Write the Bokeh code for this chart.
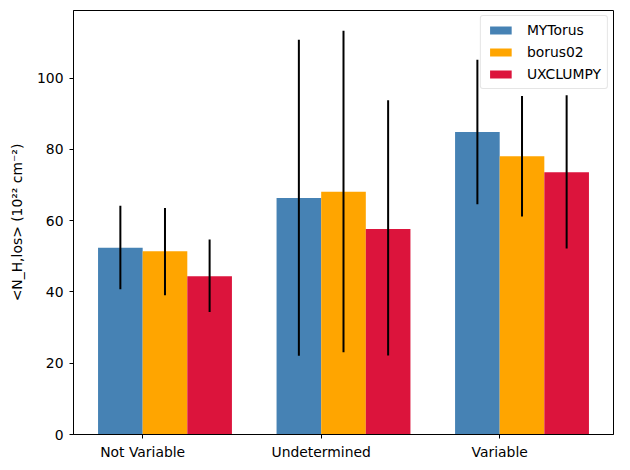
from bokeh.plotting import figure
from bokeh.models import FixedTicker, Range1d, Legend, LegendItem
from bokeh.embed import file_html
from bokeh.resources import INLINE

categories = ["Not Variable", "Undetermined", "Variable"]
series = ["MYTorus", "borus02", "UXCLUMPY"]
colors = ["steelblue", "orange", "crimson"]

mytorus = [52.4, 66.4, 84.9]
mytorus_lo = [40.8, 22.1, 64.6]
mytorus_hi = [64.2, 110.8, 105.2]

borus02 = [51.4, 68.1, 78.1]
borus02_lo = [39.1, 23.1, 61.2]
borus02_hi = [63.6, 113.3, 95.0]

uxclumpy = [44.4, 57.7, 73.6]
uxclumpy_lo = [34.4, 22.2, 52.2]
uxclumpy_hi = [54.7, 93.8, 95.2]

values = [mytorus, borus02, uxclumpy]
lows = [mytorus_lo, borus02_lo, uxclumpy_lo]
highs = [mytorus_hi, borus02_hi, uxclumpy_hi]

width = 0.25
# bars are edge-aligned: left edges at tick-0.25, tick, tick+0.25
offsets = [-0.125, 0.125, 0.375]
x0 = list(range(len(categories)))

p = figure(width=614, height=462, output_backend="svg", toolbar_location=None,
           x_range=Range1d(-0.3875, 2.6375), y_range=Range1d(0, 119.0),
           min_border_left=73, min_border_right=1, min_border_top=10, min_border_bottom=26)

items = []
for vals, lo, hi, col, name, off in zip(values, lows, highs, colors, series, offsets):
    xs = [x + off for x in x0]
    r = p.vbar(x=xs, top=vals, width=width, fill_color=col, line_color=None)
    items.append(LegendItem(label=name, renderers=[r]))
for lo, hi, off in zip(lows, highs, offsets):
    xs = [x + off for x in x0]
    p.segment(x0=xs, y0=lo, x1=xs, y1=hi, line_color="black", line_width=2)

legend = Legend(items=items, location="top_right", label_text_font="DejaVu Sans",
                label_text_font_size="13.9px", label_text_color="black",
                border_line_color="#cccccc",
                border_line_width=1, border_radius=3, glyph_width=27, glyph_height=10,
                label_standoff=13, padding=6, spacing=6, margin=5,
                background_fill_alpha=0.8)
p.add_layout(legend)

p.xgrid.visible = False
p.ygrid.visible = False
p.outline_line_color = "black"
p.outline_line_width = 1
p.outline_line_alpha = 1

p.xaxis.ticker = FixedTicker(ticks=x0)
p.xaxis.major_label_overrides = {i: c for i, c in enumerate(categories)}
p.yaxis.ticker = FixedTicker(ticks=[0, 20, 40, 60, 80, 100])
p.yaxis.axis_label = "<N_H,los> (10²² cm⁻²)"

for ax in (p.xaxis[0], p.yaxis[0]):
    ax.major_tick_out = 4
    ax.major_tick_in = 0
    ax.minor_tick_line_color = None
    ax.axis_line_color = "black"
    ax.major_tick_line_color = "black"
    ax.major_label_text_font = "DejaVu Sans"
    ax.major_label_text_font_size = "13.9px"
    ax.major_label_text_color = "black"
    ax.axis_label_text_font = "DejaVu Sans"
    ax.axis_label_text_font_size = "13.9px"
    ax.axis_label_text_font_style = "normal"
    ax.axis_label_text_color = "black"
    ax.major_label_standoff = 5
p.yaxis.major_label_standoff = 6
p.yaxis.axis_label_standoff = 9

open("out.html", "w").write(file_html(p, INLINE))
